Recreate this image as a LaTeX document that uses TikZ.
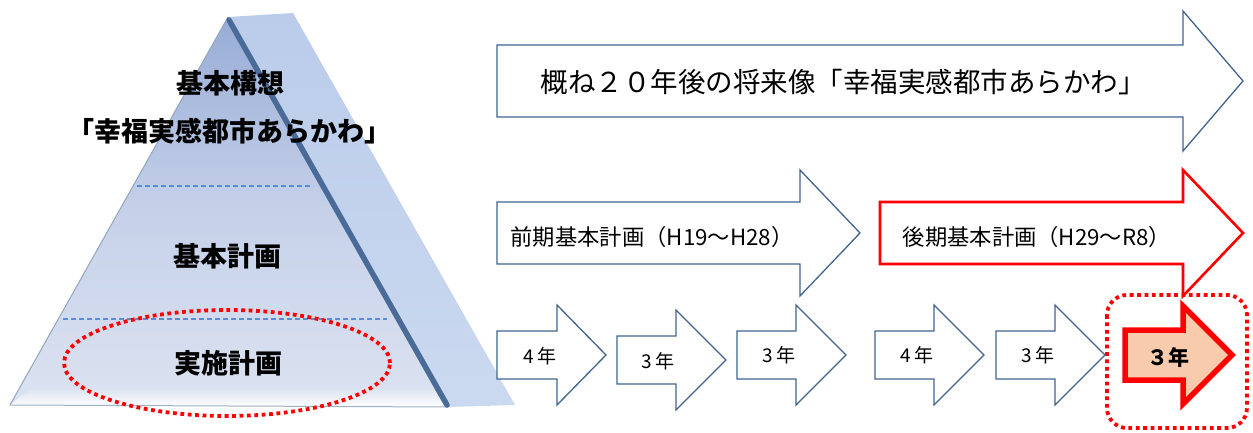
\documentclass[tikz,border=0pt]{standalone}
\usepackage{fontspec}
\newfontfamily\jp{Noto Sans CJK JP}
\usetikzlibrary{shapes.geometric}
\definecolor{arrowblue}{HTML}{41648F}
\definecolor{peach}{HTML}{F8CBAD}
\definecolor{pyrtop}{HTML}{97ACD6}
\definecolor{pyrmid}{HTML}{C6D1E9}
\definecolor{pyrbot}{HTML}{DCE3F1}
\definecolor{sidetop}{HTML}{BACCEA}
\definecolor{sidebot}{HTML}{CBD9F0}
\definecolor{edgedark}{HTML}{4A6A98}
\definecolor{dashblue}{HTML}{5B8BD0}
\newcommand\blockarr[7]{%
  \path[#1] (#2,{#5-#6}) -- (#3,{#5-#6}) -- (#3,{#5-#7}) -- (#4,#5)
    -- (#3,{#5+#7}) -- (#3,{#5+#6}) -- (#2,{#5+#6}) -- cycle;}
\begin{document}
\begin{tikzpicture}[x=1pt,y=-1pt,
  blkarrow/.style={draw=arrowblue, line width=1.3pt, fill=white, line join=miter},
  redarrow/.style={draw=red, line width=2.6pt, fill=white, line join=miter},
  peacharrow/.style={draw=red, line width=5.5pt, fill=peach, line join=miter},
  dotred/.style={draw=red, line width=3.8pt, dash pattern=on 3.8pt off 3.6pt},
  pyrtext/.style={font=\jp\bfseries\fontsize{27}{30}\selectfont, inner sep=0pt},
  toptext/.style={font=\jp\fontsize{27.5}{31}\selectfont, inner sep=0pt},
  midtext/.style={font=\jp\fontsize{22.3}{26}\selectfont, inner sep=0pt},
  yeartext/.style={font=\jp\fontsize{19}{22}\selectfont, inner sep=0pt},
  peachtext/.style={font=\jp\bfseries\fontsize{21}{24}\selectfont, inner sep=0pt},
  layerline/.style={draw=dashblue, line width=1.2pt, dash pattern=on 5pt off 3pt}]
\useasboundingbox (0,0) rectangle (1253,433);
\fill[white] (0,0) rectangle (1253,433);

% ---- pyramid ----
\shade[top color=sidetop, bottom color=sidebot]
  (228,17) -- (293,13) -- (515,405) -- (448,407) -- cycle;
\shade[top color=pyrtop, bottom color=pyrbot, middle color=pyrmid]
  (228,17) -- (10,405) -- (448,407) -- cycle;
\shade[top color=pyrbot, bottom color=white]
  (30,389) -- (433,389) -- (448,407) -- (10,405) -- cycle;
\draw[color=arrowblue!50, line width=1pt] (10,405) -- (448,407);
\draw[color=edgedark!60, line width=1pt] (228,17) -- (10,405);
\draw[color=edgedark, line width=5.5pt, line cap=round] (229,20) -- (447,405);
\draw[layerline] (137,186) -- (313,186);
\draw[layerline] (63,319) -- (387,319);

\node[pyrtext] (kousou) at (230,83) {基本構想};
\node[pyrtext] (kousou2) at (229,131) {「幸福実感都市あらかわ」};
\node[pyrtext] (kihon) at (227,256) {基本計画};
\node[pyrtext] (jisshi) at (228,363) {実施計画};
\node[ellipse, dotred, minimum width=326pt, minimum height=106pt] (ring) at (227,363) {};

% ---- top arrow ----
\blockarr{blkarrow}{497}{1183}{1243}{81}{36}{70}
\node[toptext] (vision) at (843,82) {概ね２０年後の将来像「幸福実感都市あらかわ」};

% ---- middle arrows ----
\blockarr{blkarrow}{497}{800}{860}{233}{31}{63}
\node[midtext] (zenki) at (652,237) {前期基本計画（H19～H28）};
\blockarr{redarrow}{880}{1183}{1243}{233}{31}{63}
\node[midtext] (kouki) at (1037,237) {後期基本計画（H29～R8）};

% ---- bottom arrows ----
\draw[dotred, rounded corners=20pt] (1107,295) rectangle (1247,428);
\blockarr{blkarrow}{497}{557}{606}{355}{24}{50}
\blockarr{blkarrow}{617}{676}{726}{360}{24}{50}
\blockarr{blkarrow}{737}{796}{846}{355}{24}{50}
\blockarr{blkarrow}{875}{934}{984}{355}{24}{50}
\blockarr{blkarrow}{996}{1055}{1105}{355}{24}{50}
\blockarr{peacharrow}{1125}{1183}{1232}{355}{25}{49}

\node[yeartext] (y1) at (540,356) {4 年};
\node[yeartext] (y2) at (658,361) {3 年};
\node[yeartext] (y3) at (779,355) {3 年};
\node[yeartext] (y4) at (917,355) {4 年};
\node[yeartext] (y5) at (1038,355) {3 年};
\node[peachtext] (y6) at (1168,357) {３年};
\end{tikzpicture}
\end{document}
